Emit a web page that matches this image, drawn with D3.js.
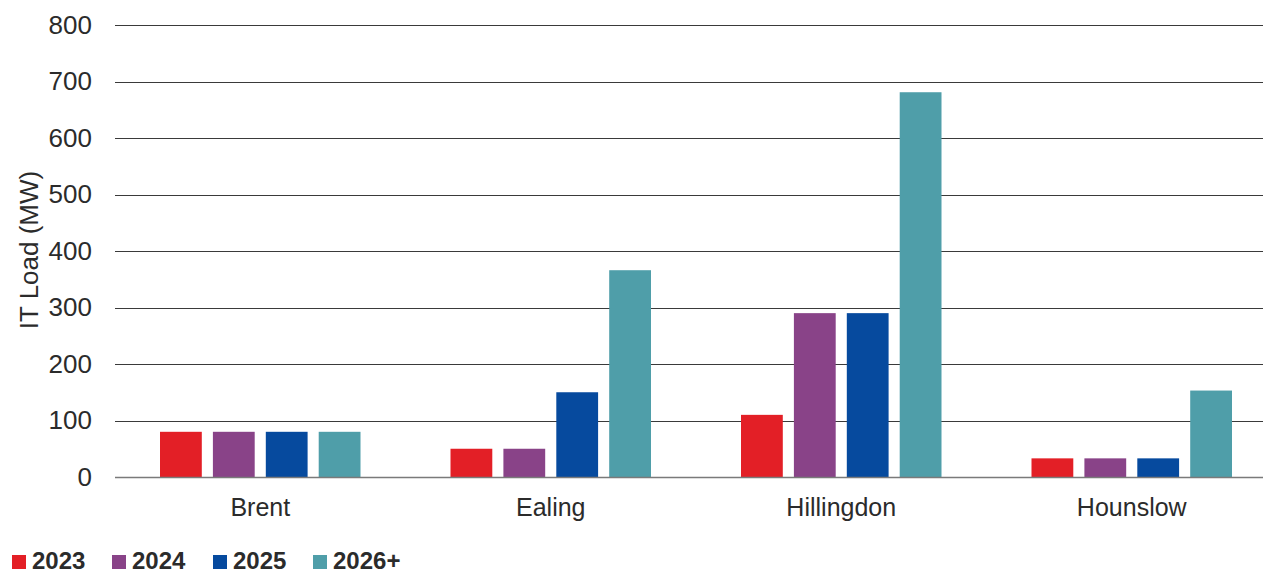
<!DOCTYPE html>
<html><head><meta charset="utf-8">
<script src="https://cdn.jsdelivr.net/npm/d3@7"></script>
<style>body{margin:0;background:#fff;}svg{display:block;font-family:"Liberation Sans",Arial,sans-serif;}</style>
</head><body><svg id="c" width="1263" height="572"></svg>
<script>
const categories = ["Brent", "Ealing", "Hillingdon", "Hounslow"];
const seriesNames = ["2023", "2024", "2025", "2026+"];
const v2023 = [80, 50, 110, 33];
const v2024 = [80, 50, 290, 33];
const v2025 = [80, 150, 290, 33];
const v2026 = [80, 366, 681, 153];
const yTicks = [0, 100, 200, 300, 400, 500, 600, 700, 800];
const colors = ["#E31F26", "#894388", "#064A9E", "#4F9EA9"];

(function () {
const seriesVals = [v2023, v2024, v2025, v2026];
const svg = d3.select("#c");
const pLeft = 115, pRight = 1277, pTop = 25, pBottom = 477;
const x0 = d3.scaleBand().domain(categories).range([pLeft, pRight]).paddingInner(0).paddingOuter(0);
const x1 = d3.scaleBand().domain(seriesNames).range([45, x0.bandwidth() - 45]).paddingInner(0.21).paddingOuter(0);
const y = d3.scaleLinear().domain([0, 800]).range([pBottom, pTop]);

// gridlines
svg.append("g").selectAll("line").data(yTicks.filter(d => d > 0)).join("line")
  .attr("x1", pLeft).attr("x2", 1263)
  .attr("y1", d => Math.round(y(d)) + 0.5).attr("y2", d => Math.round(y(d)) + 0.5)
  .attr("stroke", "#3a3a3a").attr("stroke-width", 1);

// y axis labels
const yAxis = d3.axisLeft(y).tickValues(yTicks).tickSize(0).tickPadding(0);
const gy = svg.append("g").attr("transform", `translate(92,0)`).call(yAxis);
gy.select(".domain").remove();
gy.selectAll("text").attr("font-size", 26).attr("fill", "#2b2b2b").attr("font-family", "Liberation Sans, Arial, sans-serif");

// bars
const data = [];
categories.forEach((c, i) => seriesNames.forEach((s, j) => data.push({c, s, v: seriesVals[j][i], j})));
svg.append("g").selectAll("rect").data(data).join("rect")
  .attr("x", d => x0(d.c) + x1(d.s))
  .attr("width", x1.bandwidth())
  .attr("y", d => y(d.v))
  .attr("height", d => y(0) - y(d.v))
  .attr("fill", d => colors[d.j]);

// baseline
svg.append("line").attr("x1", pLeft).attr("x2", 1263)
  .attr("y1", pBottom + 0.5).attr("y2", pBottom + 0.5)
  .attr("stroke", "#7a7a7a").attr("stroke-width", 1.5);

// x axis labels
const xAxis = d3.axisBottom(x0).tickSize(0).tickPadding(0);
const gx = svg.append("g").attr("transform", `translate(0,${pBottom})`).call(xAxis);
gx.select(".domain").remove();
gx.selectAll("text").attr("dy", null).attr("y", 39).attr("font-size", 25).attr("fill", "#2b2b2b").attr("font-family", "Liberation Sans, Arial, sans-serif");

// y label
svg.append("text").attr("transform", "translate(38,250) rotate(-90)")
  .attr("text-anchor", "middle").attr("font-size", 26).attr("fill", "#2b2b2b").text("IT Load (MW)");

// legend
const legX = [12, 112, 213, 313];
const leg = svg.append("g").selectAll("g").data(seriesNames).join("g")
  .attr("transform", (d, i) => `translate(${legX[i]},555)`);
leg.append("rect").attr("width", 14).attr("height", 14).attr("fill", (d, i) => colors[i]);
leg.append("text").attr("x", 20).attr("y", 14).attr("font-size", 24).attr("font-weight", "bold")
  .attr("fill", "#2b2b2b").text(d => d);
})();
</script></body></html>
